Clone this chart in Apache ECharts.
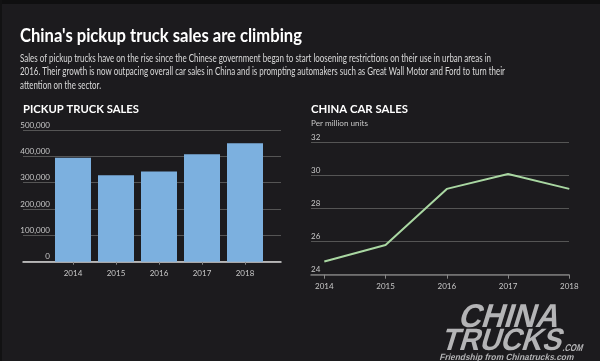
<!DOCTYPE html>
<html><head><meta charset="utf-8">
<script src="https://cdn.jsdelivr.net/npm/echarts@6/dist/echarts.min.js"></script>
<style>html,body{margin:0;padding:0;background:#1c1b1e;}#c{width:600px;height:361px;}</style>
</head><body><div id="c"></div>
<script>
const years = ['2014', '2015', '2016', '2017', '2018'];
const pickupSales = [395000, 328000, 342000, 408000, 450000];
const carSales = [24.8, 25.8, 29.2, 30.1, 29.2];
const titleText = "China's pickup truck sales are climbing";
const subtitleLines = [
  'Sales of pickup trucks have on the rise since the Chinese government began to start loosening restrictions on their use in urban areas in',
  '2016. Their growth is now outpacing overall car sales in China and is prompting automakers such as Great Wall Motor and Ford to turn their',
  'attention on the sector.'
];

const FONT = 'Lato, "Open Sans", sans-serif';
const WM_FONT = '"Liberation Sans", "DejaVu Sans", sans-serif';
const ctx = document.createElement('canvas').getContext('2d');
function txt(text, x, baseline, size, weight, color, width, slant, family) {
  const fam = family || FONT;
  ctx.font = 'normal ' + weight + ' ' + size + 'px ' + fam;
  const sx = width ? width / ctx.measureText(text).width : 1;
  const el = {
    type: 'text', x: x, y: baseline - 0.32 * size, scaleX: sx, silent: true,
    style: { text: text, fontWeight: weight, fontSize: size, fontFamily: fam,
      fill: color, textVerticalAlign: 'middle', textAlign: 'left' }
  };
  if (slant) el.skewX = slant;
  return el;
}

const graphics = [
  { type: 'rect', shape: { x: 0, y: 0, width: 600, height: 4 }, style: { fill: '#0f0f10' } },
  { type: 'rect', shape: { x: 0, y: 0, width: 2, height: 361 }, style: { fill: '#121213' } },
  txt(titleText, 20, 41.5, 18, 'bold', '#ffffff', 282),
  txt(subtitleLines[0], 20, 62, 11, 'normal', '#dadada', 471),
  txt(subtitleLines[1], 20, 75.3, 11, 'normal', '#dadada', 485),
  txt(subtitleLines[2], 20, 88.5, 11, 'normal', '#dadada', 81),
  txt('PICKUP TRUCK SALES', 23, 113.3, 12, 'bold', '#ffffff', 116),
  txt('CHINA CAR SALES', 311, 113.3, 12, 'bold', '#ffffff', 97),
  txt('Per million units', 311, 125.7, 8, 'normal', '#c8c8c8', 57),
  txt('CHINA', 460, 328, 33, 'bold', '#b4b4b6', 100, -0.3, WM_FONT),
  txt('TRUCKS', 443, 351, 31, 'bold', '#b4b4b6', 120, -0.3, WM_FONT),
  txt('.COM', 563, 351, 10, 'bold', '#b4b4b6', 20, -0.3, WM_FONT),
  txt('Friendship from Chinatrucks.com', 440, 360, 9, 'bold', '#b4b4b6', 134, -0.25, WM_FONT)
];

const labelColor = '#c8c8c8';
const chart = echarts.init(document.getElementById('c'), null, { renderer: 'canvas' });
chart.setOption({
  backgroundColor: '#1c1b1e',
  animation: false,
  graphic: graphics,
  grid: [
    { left: 23, top: 130, width: 258, height: 131.7 },
    { left: 51.5, top: 130, width: 215, height: 131.7 },
    { left: 311, top: 142.7, width: 258, height: 132 },
    { left: 324.3, top: 142.7, width: 245, height: 132 }
  ],
  xAxis: [
    { gridIndex: 0, type: 'value', min: 0, max: 1, axisLine: { show: true, onZero: false, lineStyle: { color: '#d8d8d8', width: 1.5 } }, axisTick: { show: false }, axisLabel: { show: false }, splitLine: { show: false } },
    { gridIndex: 1, type: 'category', data: years, axisLine: { show: false }, axisTick: { show: true, alignWithLabel: true, length: 3, lineStyle: { color: '#888' } }, axisLabel: { color: labelColor, fontSize: 8, margin: 8, fontFamily: FONT } },
    { gridIndex: 2, type: 'value', min: 0, max: 1, axisLine: { show: true, onZero: false, lineStyle: { color: '#7a7a7a', width: 1.5 } }, axisTick: { show: false }, axisLabel: { show: false }, splitLine: { show: false } },
    { gridIndex: 3, type: 'category', boundaryGap: false, data: years, axisLine: { show: false }, axisTick: { show: true, length: 4, lineStyle: { color: '#888' } }, axisLabel: { color: labelColor, fontSize: 8, margin: 8, fontFamily: FONT } }
  ],
  yAxis: [
    { gridIndex: 0, type: 'value', min: 0, max: 500000, interval: 100000, axisLine: { show: false }, axisTick: { show: false }, splitLine: { lineStyle: { color: '#555', width: 1 } },
      axisLabel: { color: labelColor, fontSize: 8, fontFamily: FONT, align: 'right', margin: -27, verticalAlign: 'bottom', padding: [0, 0, 1, 0], formatter: v => v.toLocaleString('en-US') } },
    { gridIndex: 1, type: 'value', min: 0, max: 500000, show: false },
    { gridIndex: 2, type: 'value', min: 24, max: 32, interval: 2, axisLine: { show: false }, axisTick: { show: false }, splitLine: { lineStyle: { color: '#555', width: 1 } },
      axisLabel: { color: labelColor, fontSize: 8, fontFamily: FONT, align: 'left', margin: 0, verticalAlign: 'bottom', padding: [0, 0, 1, 0] } },
    { gridIndex: 3, type: 'value', min: 24, max: 32, show: false }
  ],
  series: [
    { type: 'bar', xAxisIndex: 1, yAxisIndex: 1, data: pickupSales, barWidth: 36, itemStyle: { color: '#7cb0df' } },
    { type: 'line', xAxisIndex: 3, yAxisIndex: 3, data: carSales, symbol: 'none', lineStyle: { color: '#a9d7a2', width: 2 } }
  ]
});
</script></body></html>
